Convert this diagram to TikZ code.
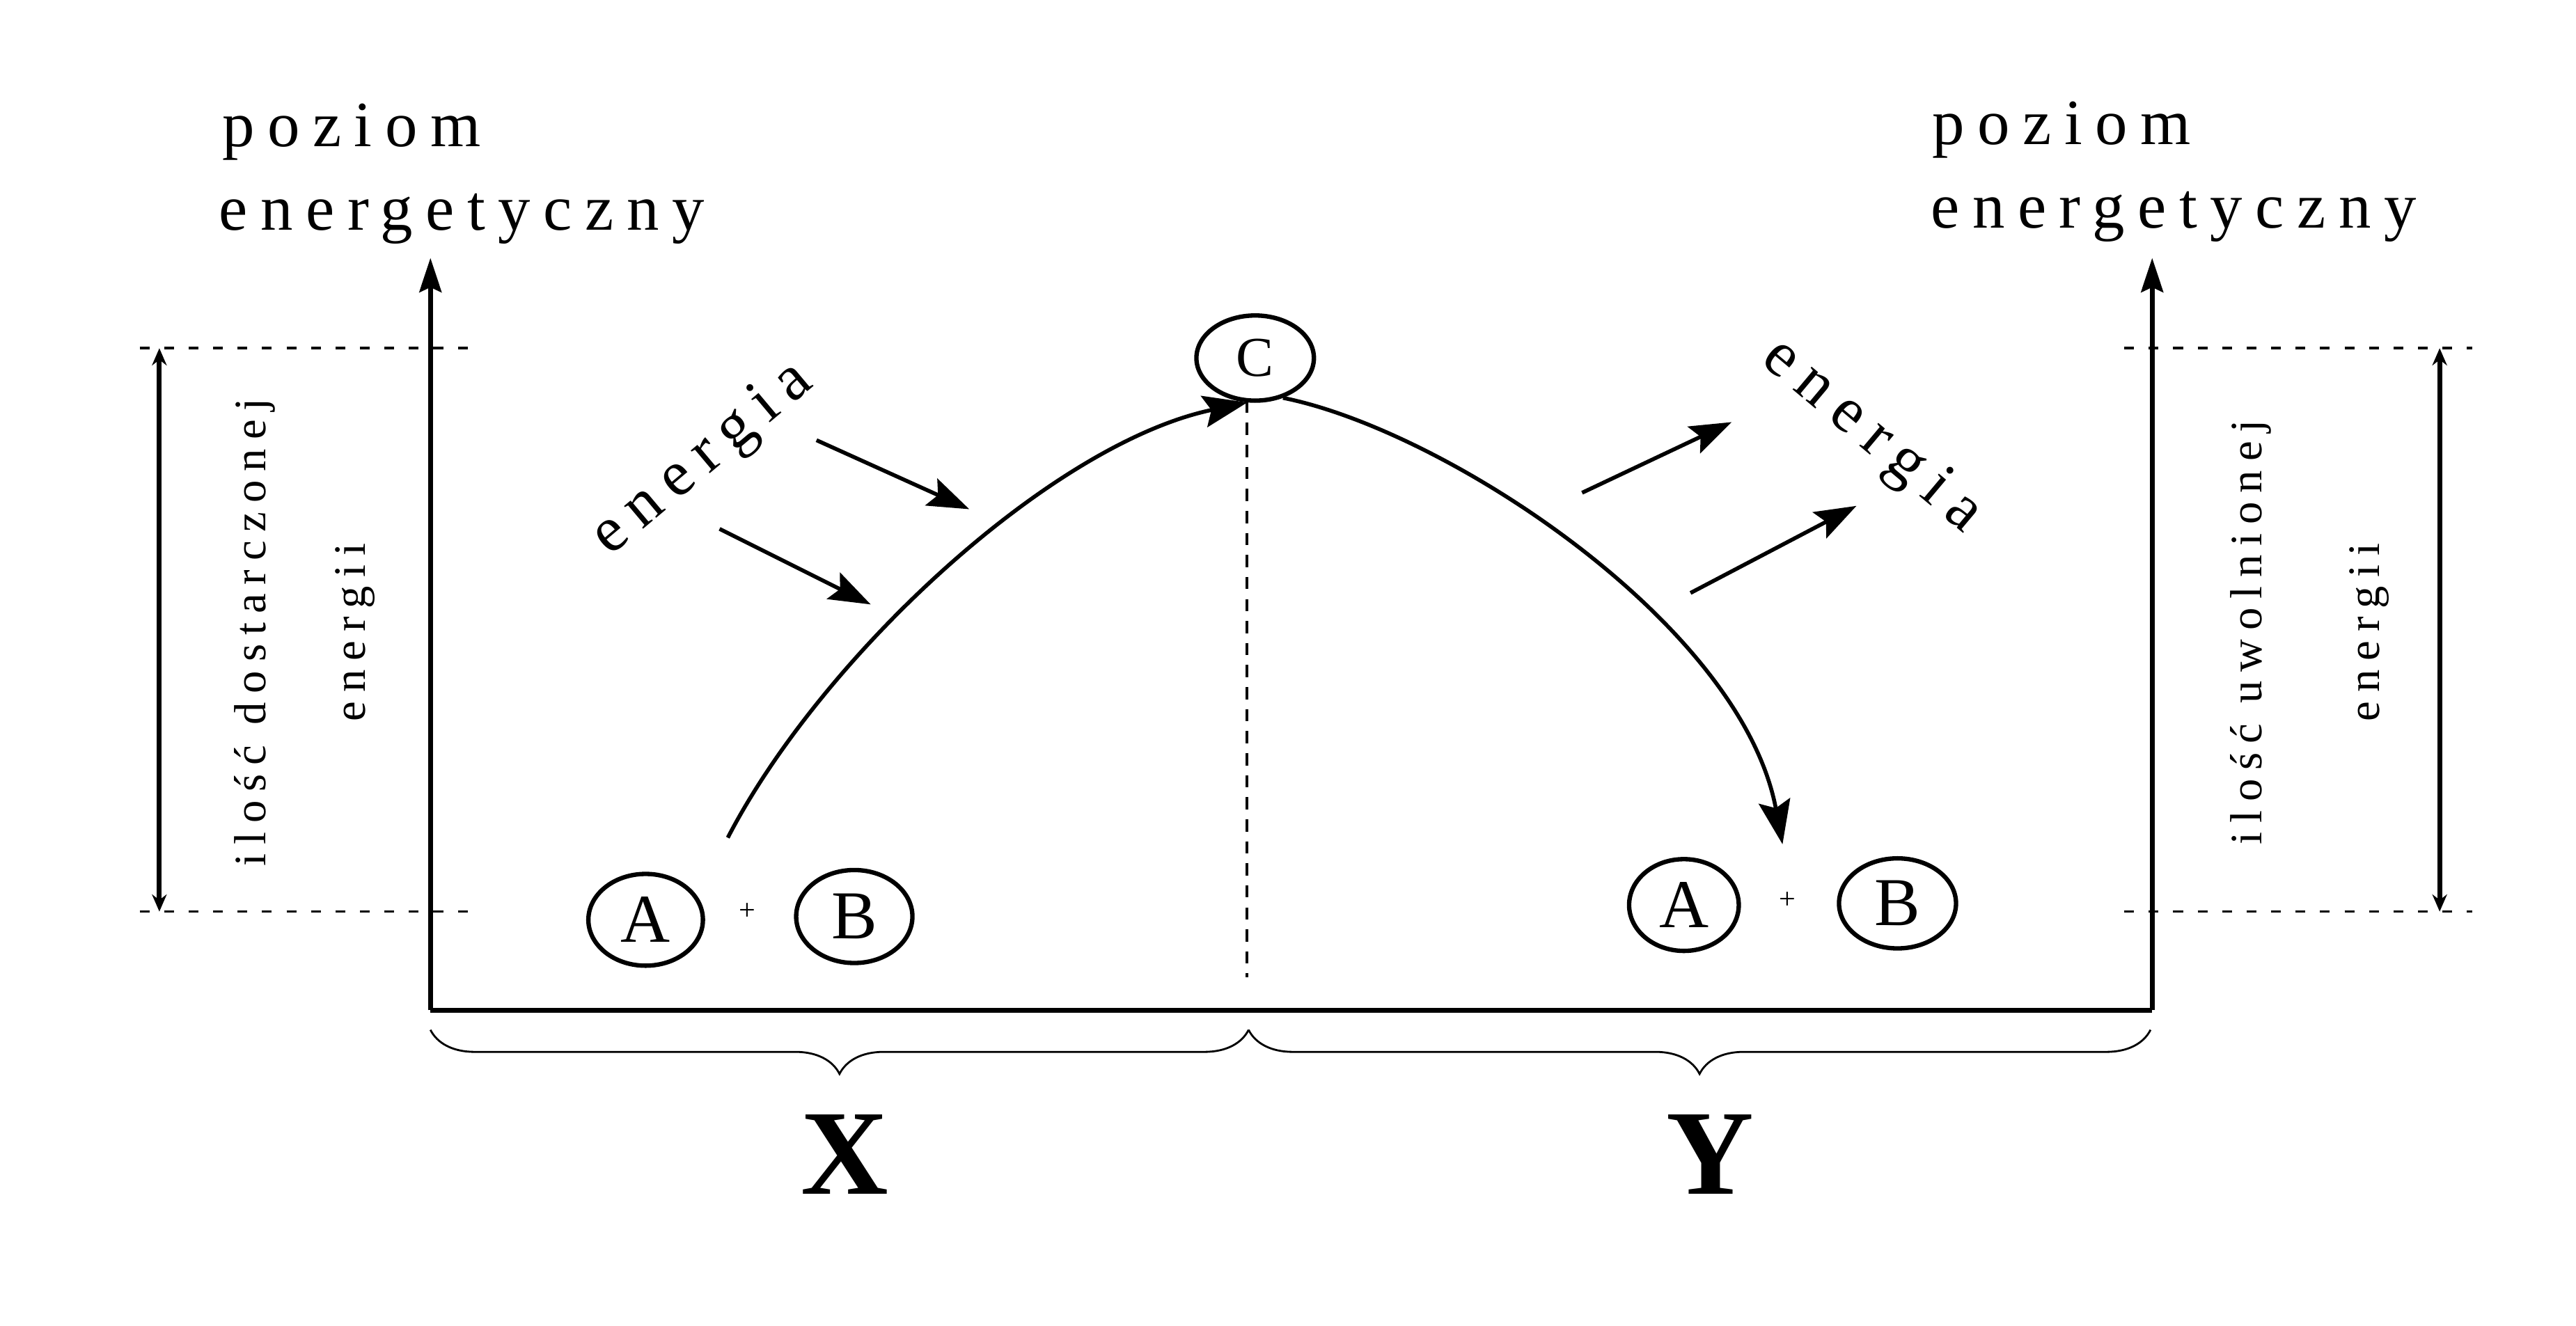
\documentclass[tikz,border=0pt]{standalone}
\usepackage{fontspec}
\setmainfont{Liberation Serif}
\newfontfamily\spacedfont[LetterSpace=20]{Liberation Serif}
\usetikzlibrary{arrows.meta,decorations.pathreplacing,shapes.geometric}
\begin{document}
\begin{tikzpicture}[x=0.023597cm,y=0.023597cm,
  axisline/.style={line width=2pt},
  axistip/.style={-{Stealth[length=14pt,width=9pt,inset=2pt]}},
  arcline/.style={line width=1.6pt},
  arctip/.style={-{Stealth[length=18pt,width=13pt,inset=3pt]}},
  enarrow/.style={line width=1.6pt,-{Stealth[length=17pt,width=12pt,inset=3pt]}},
  dotline/.style={line width=1pt,dash pattern=on 4pt off 6pt},
  vdotline/.style={line width=1pt,dash pattern=on 5pt off 4pt},
  dimline/.style={line width=2pt,{Stealth[length=7pt,width=6pt]}-{Stealth[length=7pt,width=6pt]}},
  mol/.style={ellipse,draw,line width=1.8pt,inner sep=0pt,minimum width=46.8pt,minimum height=37.5pt,font=\fontsize{28pt}{30pt}\selectfont},
  bigtext/.style={inner sep=0pt,font=\spacedfont\fontsize{26.4pt}{30pt}\selectfont},
  sidetext/.style={inner sep=0pt,rotate=90,font=\spacedfont\fontsize{18.4pt}{22pt}\selectfont},
  plussign/.style={inner sep=0pt,font=\fontsize{12pt}{14pt}\selectfont},
  xylabel/.style={inner sep=0pt,anchor=base,font=\bfseries\fontsize{49.5pt}{52pt}\selectfont},
  bracestyle/.style={decorate,decoration={brace,mirror,amplitude=18pt},line width=0.8pt}
]
\useasboundingbox (0,0) rectangle (1568,807);

% axes
\coordinate (LT) at (262,650);
\coordinate (LO) at (262,192);
\coordinate (RO) at (1310,192);
\coordinate (RT) at (1310,650);
\draw[axisline] (LO) -- (RO);
\draw[axisline,axistip] (LO) -- (LT);
\draw[axisline,axistip] (RO) -- (RT);

% axis titles
\node[bigtext,anchor=base west] (pl1) at (135,718) {poziom};
\node[bigtext,anchor=base west] (pl2) at (133,667) {energetyczny};
\node[bigtext,anchor=base west] (pr1) at (1176,719) {poziom};
\node[bigtext,anchor=base west] (pr2) at (1175,668) {energetyczny};

% dotted level lines
\coordinate (tl1) at (85,595);  \coordinate (tl2) at (287,595);
\coordinate (bl1) at (85,252);  \coordinate (bl2) at (287,252);
\coordinate (tr1) at (1293,595); \coordinate (tr2) at (1505,595);
\coordinate (br1) at (1293,252); \coordinate (br2) at (1505,252);
\draw[dotline] (tl1) -- (tl2);
\draw[dotline] (bl1) -- (bl2);
\draw[dotline] (tr1) -- (tr2);
\draw[dotline] (br1) -- (br2);

% dimension arrows
\coordinate (dl1) at (97,595); \coordinate (dl2) at (97,252);
\coordinate (dr1) at (1485,595); \coordinate (dr2) at (1485,252);
\draw[dimline] (dl1) -- (dl2);
\draw[dimline] (dr1) -- (dr2);

% side texts
\node[sidetext] (sl1) at (155,422) {ilość dostarczonej};
\node[sidetext] (sl2) at (216,422) {energii};
\node[sidetext] (sr1) at (1370,422) {ilość uwolnionej};
\node[sidetext] (sr2) at (1442,422) {energii};

% molecules
\node[mol] (A1) at (393,247) {A};
\node[plussign] (p1) at (455,252) {+};
\node[mol,minimum width=47.5pt,minimum height=38pt] (B1) at (520,249) {B};
\node[mol,minimum width=44.8pt] (A2) at (1025,256) {A};
\node[plussign] (p2) at (1088,259) {+};
\node[mol,minimum width=47.8pt,minimum height=36.8pt] (B2) at (1155,257) {B};
\node[mol,minimum width=48pt,minimum height=34.8pt,font=\fontsize{23pt}{25pt}\selectfont] (C) at (764,589) {C};

% reaction path
\coordinate (s1) at (443,297);
\draw[arcline,arctip] (s1) .. controls (500,407) and (640,537) .. (C.-100);
\coordinate (e2) at (1085,293);
\draw[arcline,arctip] (C.-55) .. controls (880,545) and (1060,427) .. (e2);

% vertical dotted line
\coordinate (vb) at (759,212);
\coordinate (vt) at (759,563);
\draw[vdotline] (vt) -- (vb);

% energy arrows
\coordinate (ea1) at (497,539); \coordinate (eb1) at (590,497);
\coordinate (ea2) at (438,485); \coordinate (eb2) at (530,439);
\coordinate (ec1) at (963,507); \coordinate (ed1) at (1054,550);
\coordinate (ec2) at (1029,446); \coordinate (ed2) at (1130,499);
\draw[enarrow] (ea1) -- (eb1);
\draw[enarrow] (ea2) -- (eb2);
\draw[enarrow] (ec1) -- (ed1);
\draw[enarrow] (ec2) -- (ed2);
\node[bigtext,rotate=40] (en1) at (428,527) {energia};
\node[bigtext,rotate=-40] (en2) at (1139,541) {energia};

% braces
\coordinate (b1) at (262,180); \coordinate (b2) at (760,180); \coordinate (b3) at (1309,180);
\draw[bracestyle] (b1) -- (b2);
\draw[bracestyle] (b2) -- (b3);

\node[xylabel] (X) at (514,80) {X};
\node[xylabel] (Y) at (1041,80) {Y};
\end{tikzpicture}
\end{document}
